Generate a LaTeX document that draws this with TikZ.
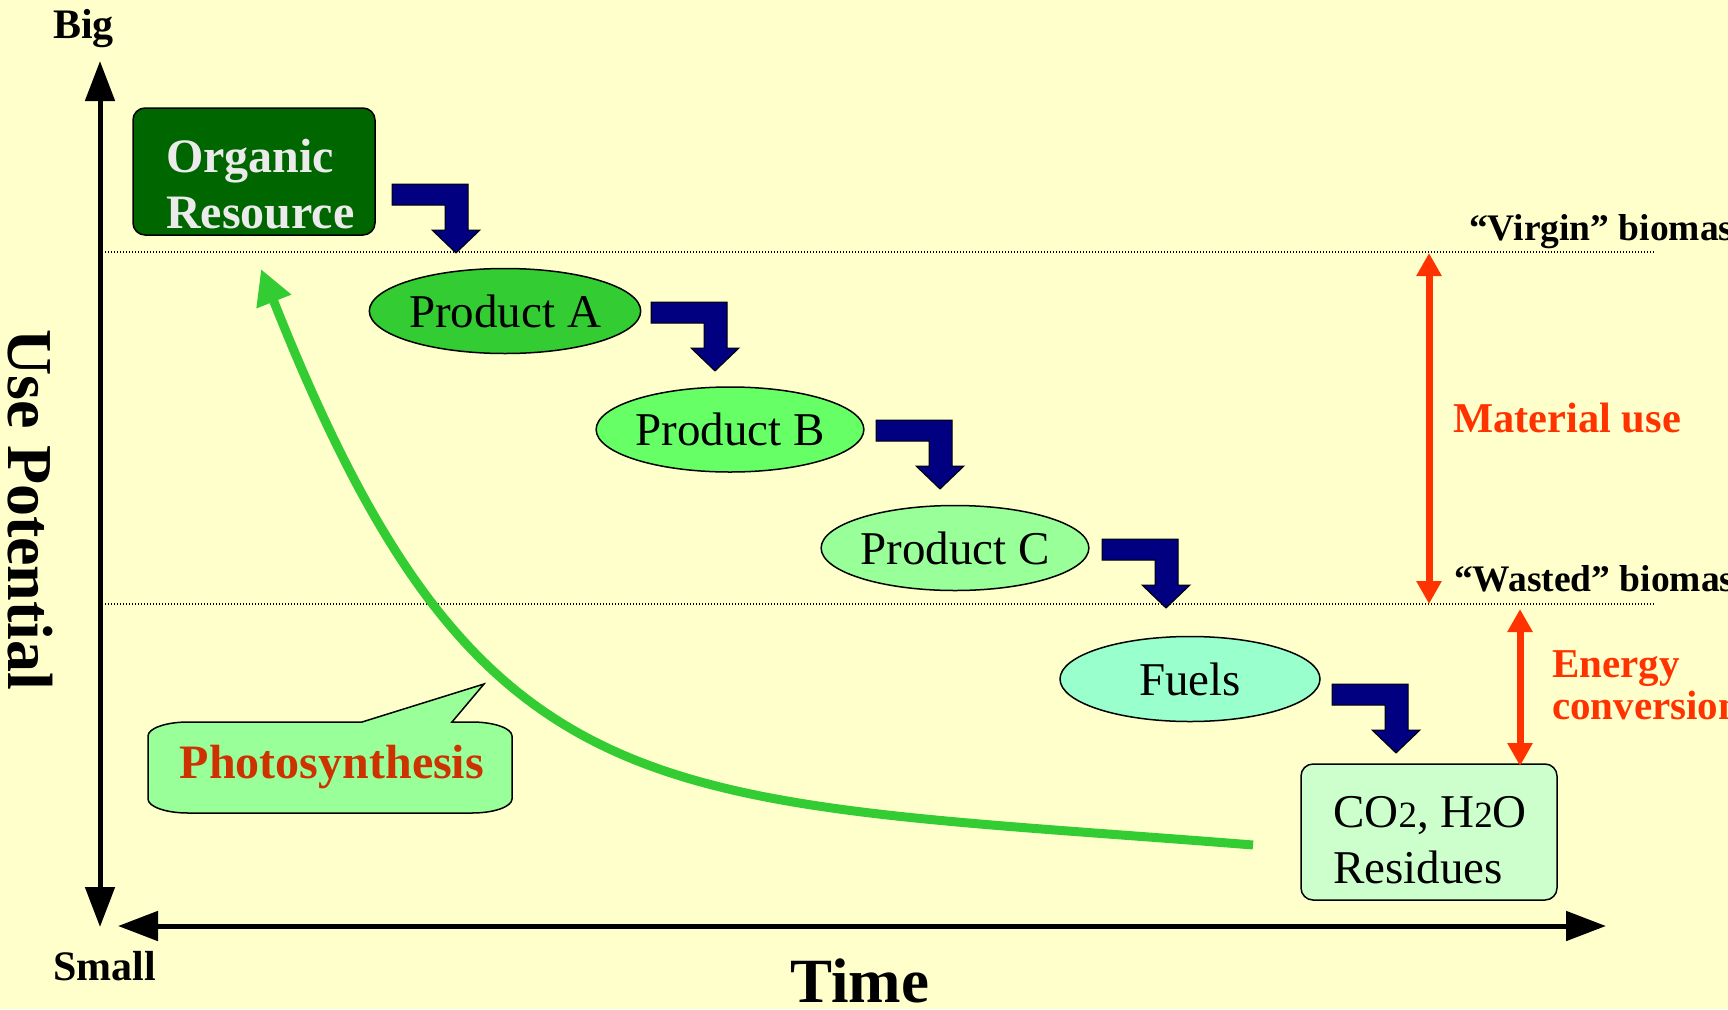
\documentclass[tikz,border=0pt]{standalone}
\usepackage{fontspec}
\setmainfont{Liberation Serif}
\usetikzlibrary{shapes.geometric,arrows.meta}
\definecolor{bgyellow}{HTML}{FFFFCC}
\definecolor{darkgr}{HTML}{006600}
\definecolor{lightgrey}{HTML}{EBEBEB}
\definecolor{prodA}{HTML}{33CC33}
\definecolor{prodB}{HTML}{66FF66}
\definecolor{prodC}{HTML}{99FF99}
\definecolor{fuelc}{HTML}{99FFCC}
\definecolor{resc}{HTML}{CCFFCC}
\definecolor{navyc}{HTML}{000080}
\definecolor{redc}{HTML}{FF3300}
\definecolor{photored}{HTML}{CC3300}
\definecolor{photogreen}{HTML}{33CC33}
\begin{document}
\begin{tikzpicture}[x=1pt,y=-1pt,
  ell/.style={ellipse, draw=black, line width=1.5pt, minimum width=260pt, minimum height=85pt, inner sep=0pt, font=\fontsize{47}{50}\selectfont},
  axisline/.style={line width=5pt, {Triangle[length=40pt,width=29pt]}-{Triangle[length=40pt,width=29pt]}},
  redarrow/.style={draw=redc, line width=7pt, {Triangle[length=23pt,width=24pt]}-{Triangle[length=23pt,width=24pt]}},
  levelline/.style={line width=1.2pt, dash pattern=on 1.4pt off 1.6pt},
  bigbold/.style={font=\fontsize{42}{46}\selectfont\bfseries, inner sep=0pt},
  regtext/.style={font=\fontsize{47}{50}\selectfont, inner sep=0pt},
  levellabel/.style={font=\fontsize{37.5}{40}\selectfont\bfseries, inner sep=0pt, anchor=base west},
  bentarrow/.pic={\draw[fill=navyc, draw=black, line width=1pt, line join=miter]
     (0,0) -- (76,0) -- (76,46) -- (88,46) -- (64,69) -- (40,46) -- (53,46) -- (53,21) -- (0,21) -- cycle;}
]
\useasboundingbox (0,0) rectangle (1728,1009);
\clip (0,0) rectangle (1728,1009);
\fill[bgyellow] (0,0) rectangle (1728,1009);

% level lines
\draw[levelline] (105,252) coordinate (vl) -- (1655,252) coordinate (vr);
\draw[levelline] (105,604) coordinate (wl) -- (1655,604) coordinate (wr);

% axes
\coordinate (ytop) at (100,61);
\coordinate (ybot) at (100,927);
\coordinate (xleft) at (118,926);
\coordinate (xright) at (1606,926);
\draw[axisline] (ytop) -- (ybot);
\draw[axisline] (xleft) -- (xright);

\node[bigbold, anchor=base west] (big) at (53,38) {Big};
\node[bigbold, anchor=base west] (small) at (53,980) {Small};
\node[font=\fontsize{64}{68}\selectfont\bfseries, inner sep=0pt, rotate=-90] (usepot) at (30,510) {Use Potential};
\node[font=\fontsize{63}{66}\selectfont\bfseries, inner sep=0pt, anchor=base] (time) at (860,1002) {Time};

% organic resource
\node[draw=black, line width=1.5pt, fill=darkgr, rounded corners=12pt, minimum width=242pt, minimum height=127pt] (org) at (254,171.5) {};
\node[font=\fontsize{48}{56}\selectfont\bfseries, text=lightgrey, inner sep=0pt, anchor=base west] (orgt1) at (166,172) {Organic};
\node[font=\fontsize{48}{56}\selectfont\bfseries, text=lightgrey, inner sep=0pt, anchor=base west] (orgt2) at (166,228) {Resource};

% products
\node[ell, fill=prodA] (pa) at (505,311) {Product A};
\node[ell, fill=prodB] (pb) at (730,429.5) {Product B};
\node[ell, fill=prodC] (pc) at (955,548) {Product C};
\node[ell, fill=fuelc] (fu) at (1190,679) {Fuels};

% residues box
\node[draw=black, line width=1.5pt, fill=resc, rounded corners=12pt, minimum width=256pt, minimum height=136pt] (res) at (1429,832) {};
\node[regtext, anchor=base west] (rest1) at (1333,827) {CO{\fontsize{37}{40}\selectfont 2}, H{\fontsize{37}{40}\selectfont 2}O};
\node[regtext, anchor=base west] (rest2) at (1333,883) {Residues};

% bent arrows
\pic (b1) at (392,184) {bentarrow};
\pic (b2) at (651,302) {bentarrow};
\pic (b3) at (876,420) {bentarrow};
\pic (b4) at (1102,539) {bentarrow};
\pic (b5) at (1332,684) {bentarrow};

% level labels
\node[levellabel] (virgin) at (1469,240) {“Virgin” biomass};
\node[levellabel] (wasted) at (1454,591) {“Wasted” biomass};

% red arrows
\coordinate (mtop) at (1429,253);
\coordinate (mbot) at (1429,604);
\coordinate (etop) at (1520,609);
\coordinate (ebot) at (1520,766);
\draw[redarrow] (mtop) -- (mbot);
\draw[redarrow] (etop) -- (ebot);
\node[font=\fontsize{42.5}{46}\selectfont\bfseries, inner sep=0pt, text=redc, anchor=base west] (matuse) at (1453,432) {Material use};
\node[font=\fontsize{41}{44}\selectfont\bfseries, text=redc, inner sep=0pt, anchor=base west] (en1) at (1552,677) {Energy};
\node[font=\fontsize{41}{44}\selectfont\bfseries, text=redc, inner sep=0pt, anchor=base west] (en2) at (1552,719) {conversion};

% photosynthesis curve
\coordinate (pstart) at (1253,845);
\coordinate (ptip) at (261,269);
\draw[draw=photogreen, line width=9pt, -{Triangle[length=35pt,width=35pt]}]
  (pstart) .. controls (653,797) and (482,827) .. (ptip);

% callout
\draw[fill=prodC, draw=black, line width=1.5pt, line join=miter]
  (188,722) -- (362,722) -- (484,684) -- (452,722) -- (472,722)
  .. controls (494,722) and (512,728.3) .. (512,736)
  -- (512,799)
  .. controls (512,806.7) and (494,813) .. (472,813)
  -- (188,813)
  .. controls (166,813) and (148,806.7) .. (148,799)
  -- (148,736)
  .. controls (148,728.3) and (166,722) .. (188,722) -- cycle;
\node[font=\fontsize{48}{52}\selectfont\bfseries, text=photored, inner sep=0pt, anchor=base] (photo) at (332,778) {Photosynthesis};
\end{tikzpicture}
\end{document}
